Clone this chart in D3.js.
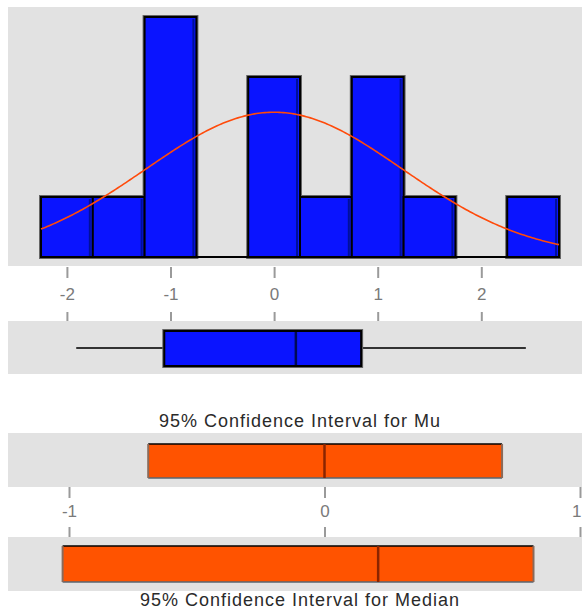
<!DOCTYPE html>
<html>
<head>
<meta charset="utf-8">
<script src="https://cdn.jsdelivr.net/npm/d3@7"></script>
<style>
  html, body { margin: 0; padding: 0; background: #fff; }
  svg { display: block; }
  text { font-family: "Liberation Sans", Arial, sans-serif; }
</style>
</head>
<body>
<svg id="chart" width="582" height="610"></svg>
<script>
// Histogram bins (edges) and counts
const binEdges = [-2.25, -1.75, -1.25, -0.75, -0.25, 0.25, 0.75, 1.25, 1.75, 2.25, 2.75];
const binCounts = [1, 1, 4, 0, 3, 1, 3, 1, 0, 1];
const histTicks = [-2, -1, 0, 1, 2];

// Fitted normal curve parameters
const fitMean = 0.0;
const fitSd = 1.24;
const sampleSize = 15;

// Box plot summary: min, Q1, median, Q3, max
const boxStats = [-1.91, -1.06, 0.21, 0.84, 2.43];

// 95% confidence intervals: [lower, centre, upper]
const ciMu = [-0.69, 0.0, 0.695];
const ciMedian = [-1.025, 0.21, 0.818];
const ciTicks = [-1, 0, 1];

const panelGray = "#e2e2e2";
const barBlue = "#0a14ff";
const ciOrange = "#ff5300";
const curveColor = "#ff4a0a";
const tickGray = "#9a9a9a";
const labelGray = "#7a7a7a";

const svg = d3.select("#chart");

// ---------- Histogram ----------
const x = d3.scaleLinear().domain([-2.25, 2.75]).range([41, 559]);
const y = d3.scaleLinear().domain([0, 4]).range([257, 17]);

svg.append("rect").attr("x", 8).attr("y", 7).attr("width", 574).attr("height", 259).attr("fill", panelGray);

const bins = binCounts.map((c, i) => ({ x0: binEdges[i], x1: binEdges[i + 1], count: c })).filter(d => d.count > 0);

const hist = svg.append("g");
// soft grey halo around bars
hist.selectAll("rect.halo").data(bins).join("rect")
  .attr("class", "halo")
  .attr("x", d => x(d.x0)).attr("y", d => y(d.count))
  .attr("width", d => x(d.x1) - x(d.x0)).attr("height", d => y(0) - y(d.count))
  .attr("fill", "none").attr("stroke", "#666").attr("stroke-width", 4);
hist.selectAll("rect.bar").data(bins).join("rect")
  .attr("class", "bar")
  .attr("x", d => x(d.x0)).attr("y", d => y(d.count))
  .attr("width", d => x(d.x1) - x(d.x0)).attr("height", d => y(0) - y(d.count))
  .attr("fill", barBlue).attr("stroke", "#000").attr("stroke-width", 2);
// darker inner shading on the right side of each bar
hist.selectAll("line.shade").data(bins).join("line")
  .attr("class", "shade")
  .attr("x1", d => x(d.x1) - 3).attr("x2", d => x(d.x1) - 3)
  .attr("y1", d => y(d.count) + 2).attr("y2", y(0) - 1)
  .attr("stroke", "#00109a").attr("stroke-width", 2);
// baseline
hist.append("line")
  .attr("x1", x(binEdges[0])).attr("x2", x(binEdges[binEdges.length - 1]))
  .attr("y1", y(0)).attr("y2", y(0))
  .attr("stroke", "#000").attr("stroke-width", 2);

// normal curve scaled to counts per bin
const binWidth = binEdges[1] - binEdges[0];
const dens = v => sampleSize * binWidth * Math.exp(-0.5 * ((v - fitMean) / fitSd) ** 2) / (fitSd * Math.sqrt(2 * Math.PI));
const curvePts = d3.range(binEdges[0], binEdges[binEdges.length - 1] + 1e-9, 0.02);
svg.append("path")
  .datum(curvePts)
  .attr("d", d3.line().x(v => x(v)).y(v => y(dens(v))))
  .attr("fill", "none").attr("stroke", curveColor).attr("stroke-width", 1.6);

// histogram axis: tick, label, tick
const histAxis = svg.append("g").attr("transform", "translate(0,267)")
  .call(d3.axisBottom(x).tickValues(histTicks).tickSize(11).tickPadding(9).tickFormat(d3.format("d")));
histAxis.select(".domain").remove();
histAxis.selectAll(".tick line").attr("stroke", tickGray).attr("stroke-width", 2);
histAxis.selectAll(".tick text").attr("fill", labelGray).attr("font-size", 17).attr("dy", "0.76em")
  .text(d => d < 0 ? "-" + Math.abs(d) : d);
histAxis.selectAll(".tick").append("line")
  .attr("y1", 45).attr("y2", 55).attr("stroke", tickGray).attr("stroke-width", 2);

// ---------- Box plot ----------
svg.append("rect").attr("x", 8).attr("y", 321).attr("width", 574).attr("height", 53).attr("fill", panelGray);
const [bMin, bQ1, bMed, bQ3, bMax] = boxStats;
const boxG = svg.append("g");
boxG.append("line").attr("x1", x(bMin)).attr("x2", x(bQ1)).attr("y1", 348).attr("y2", 348)
  .attr("stroke", "#333").attr("stroke-width", 2);
boxG.append("line").attr("x1", x(bQ3)).attr("x2", x(bMax)).attr("y1", 348).attr("y2", 348)
  .attr("stroke", "#333").attr("stroke-width", 2);
boxG.append("rect").attr("x", x(bQ1)).attr("y", 331).attr("width", x(bQ3) - x(bQ1)).attr("height", 35)
  .attr("fill", "none").attr("stroke", "#666").attr("stroke-width", 4);
boxG.append("rect").attr("x", x(bQ1)).attr("y", 331).attr("width", x(bQ3) - x(bQ1)).attr("height", 35)
  .attr("fill", barBlue).attr("stroke", "#000").attr("stroke-width", 2);
boxG.append("line").attr("x1", x(bMed)).attr("x2", x(bMed)).attr("y1", 332).attr("y2", 365)
  .attr("stroke", "#000a55").attr("stroke-width", 2.5);

// ---------- Confidence intervals ----------
const xc = d3.scaleLinear().domain([-1, 1]).range([69, 580]);

function ciPanel(ci, panelTop, boxTop, boxH) {
  svg.append("rect").attr("x", 8).attr("y", panelTop).attr("width", 574).attr("height", 54).attr("fill", panelGray);
  const g = svg.append("g");
  const [lo, mid, hi] = ci;
  g.append("rect").attr("x", xc(lo)).attr("y", boxTop).attr("width", xc(hi) - xc(lo)).attr("height", boxH)
    .attr("fill", ciOrange);
  g.append("line").attr("x1", xc(lo)).attr("x2", xc(hi)).attr("y1", boxTop).attr("y2", boxTop)
    .attr("stroke", "#000").attr("stroke-width", 1.5);
  g.append("line").attr("x1", xc(lo)).attr("x2", xc(hi)).attr("y1", boxTop + boxH).attr("y2", boxTop + boxH)
    .attr("stroke", "#5a6670").attr("stroke-width", 1.5);
  [lo, hi].forEach(v => g.append("line").attr("x1", xc(v)).attr("x2", xc(v))
    .attr("y1", boxTop).attr("y2", boxTop + boxH).attr("stroke", "#8a6a5a").attr("stroke-width", 2));
  g.append("line").attr("x1", xc(mid)).attr("x2", xc(mid)).attr("y1", boxTop).attr("y2", boxTop + boxH)
    .attr("stroke", "#8a2400").attr("stroke-width", 2.5);
}

svg.append("text").attr("x", 300).attr("y", 427).attr("text-anchor", "middle")
  .attr("font-size", 18).attr("letter-spacing", 1).attr("fill", "#2a2a2a")
  .text("95% Confidence Interval for Mu");

ciPanel(ciMu, 433, 444, 34);

const ciAxis = svg.append("g").attr("transform", "translate(0,487)")
  .call(d3.axisBottom(xc).tickValues(ciTicks).tickSize(11).tickPadding(6).tickFormat(d3.format("d")));
ciAxis.select(".domain").remove();
ciAxis.selectAll(".tick line").attr("stroke", tickGray).attr("stroke-width", 2);
ciAxis.selectAll(".tick text").attr("fill", labelGray).attr("font-size", 17).attr("dy", "0.76em")
  .text(d => d < 0 ? "-" + Math.abs(d) : d);
// the last label sits at the right edge; anchor it so it stays inside the page
ciAxis.selectAll(".tick text").filter(d => d === ciTicks[ciTicks.length - 1])
  .attr("text-anchor", "end").attr("x", 1);
ciAxis.selectAll(".tick").append("line")
  .attr("y1", 40).attr("y2", 50).attr("stroke", tickGray).attr("stroke-width", 2);

ciPanel(ciMedian, 537, 546, 36);

svg.append("text").attr("x", 300).attr("y", 606).attr("text-anchor", "middle")
  .attr("font-size", 18).attr("letter-spacing", 1).attr("fill", "#2a2a2a")
  .text("95% Confidence Interval for Median");
</script>
</body>
</html>
